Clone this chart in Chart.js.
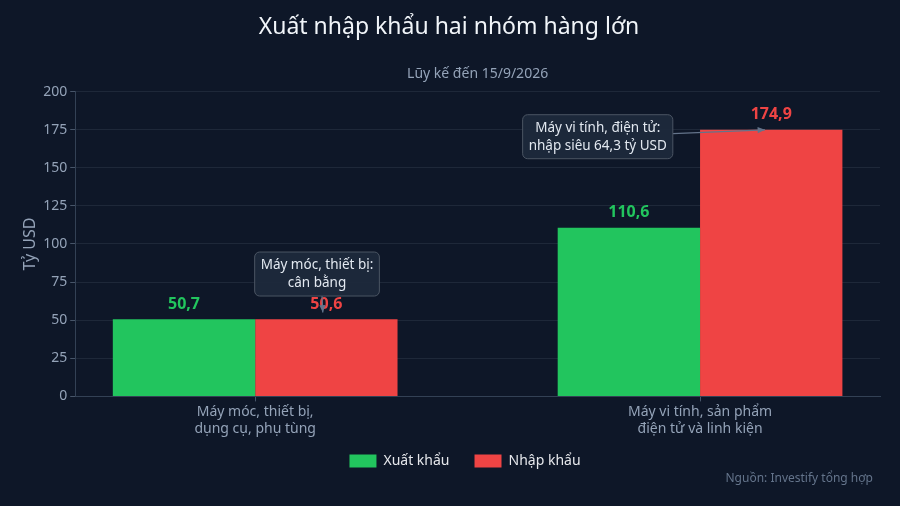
<!DOCTYPE html>
<html>
<head>
<meta charset="utf-8">
<script src="https://cdn.jsdelivr.net/npm/chart.js@4/dist/chart.umd.min.js"></script>
<style>
  html, body { margin: 0; padding: 0; background: #0e1728; }
  #wrap { width: 900px; height: 506px; }
</style>
</head>
<body>
<div id="wrap"><canvas id="chart" width="900" height="506"></canvas></div>
<script>
// data
const categories = [
	['Máy móc, thiết bị,', 'dụng cụ, phụ tùng'],
	['Máy vi tính, sản phẩm', 'điện tử và linh kiện']
];
const exportValues = [50.7, 110.6];
const importValues = [50.6, 174.9];
const yTicks = [0, 25, 50, 75, 100, 125, 150, 175, 200];
const notes = [
	{ lines: ['Máy móc, thiết bị:', 'cân bằng'], x: 0.139, y: 80.3, toX: 0.152, toY: 55 },
	{ lines: ['Máy vi tính, điện tử:', 'nhập siêu 64,3 tỷ USD'], x: 0.77, y: 170.4, toX: 1.146, toY: 174.9, side: true }
];

const GREEN = '#22c55e';
const RED = '#ef4444';
const FONT = "'Noto Sans', 'Open Sans', sans-serif";

function fmt(v) {
	return v.toFixed(1).replace('.', ',');
}

// value labels above bars
const valueLabels = {
	id: 'valueLabels',
	afterDatasetsDraw(chart) {
		const ctx = chart.ctx;
		ctx.save();
		ctx.font = 'bold 16px ' + FONT;
		ctx.textAlign = 'center';
		ctx.textBaseline = 'bottom';
		chart.data.datasets.forEach((ds, i) => {
			chart.getDatasetMeta(i).data.forEach((bar, j) => {
				ctx.fillStyle = ds.backgroundColor;
				ctx.fillText(fmt(ds.data[j].y), bar.x, bar.y - 7);
			});
		});
		ctx.restore();
	}
};

// callout boxes, subtitle and source line
const callouts = {
	id: 'callouts',
	afterDraw(chart) {
		const ctx = chart.ctx;
		const xs = chart.scales.x, ys = chart.scales.y;
		const area = chart.chartArea;
		ctx.save();
		ctx.font = '13.5px ' + FONT;
		notes.forEach(n => {
			const cx = xs.getPixelForValue(n.x), cy = ys.getPixelForValue(n.y);
			const w = Math.max(...n.lines.map(l => ctx.measureText(l).width)) + 12;
			const h = 44;
			const left = cx - w / 2, top = cy - h / 2;
			const tx = xs.getPixelForValue(n.toX), ty = ys.getPixelForValue(n.toY);
			// arrow
			const sx = n.side ? left + w : cx + 5;
			const sy = n.side ? cy - 3 : top + h;
			ctx.strokeStyle = '#64748b';
			ctx.fillStyle = '#64748b';
			ctx.lineWidth = 1.2;
			ctx.beginPath();
			ctx.moveTo(sx, sy);
			ctx.lineTo(tx, ty);
			ctx.stroke();
			const a = Math.atan2(ty - sy, tx - sx);
			ctx.beginPath();
			ctx.moveTo(tx, ty);
			ctx.lineTo(tx - 8 * Math.cos(a - 0.4), ty - 8 * Math.sin(a - 0.4));
			ctx.lineTo(tx - 8 * Math.cos(a + 0.4), ty - 8 * Math.sin(a + 0.4));
			ctx.closePath();
			ctx.fill();
			// box
			ctx.fillStyle = 'rgba(30, 41, 59, 0.95)';
			ctx.strokeStyle = '#4b5563';
			ctx.lineWidth = 1;
			ctx.beginPath();
			ctx.roundRect(left, top, w, h, 5);
			ctx.fill();
			ctx.stroke();
			ctx.fillStyle = '#e2e8f0';
			ctx.textAlign = 'center';
			ctx.textBaseline = 'middle';
			n.lines.forEach((l, k) => {
				ctx.fillText(l, cx, top + 13 + k * 18);
			});
		});
		// subtitle centred over the plot
		ctx.font = '14px ' + FONT;
		ctx.fillStyle = '#94a3b8';
		ctx.textAlign = 'center';
		ctx.textBaseline = 'middle';
		ctx.fillText('Lũy kế đến 15/9/2026', (area.left + area.right) / 2, 74);
		// source
		ctx.font = '12px ' + FONT;
		ctx.fillStyle = '#64748b';
		ctx.textAlign = 'right';
		ctx.fillText('Nguồn: Investify tổng hợp', 873, 479);
		ctx.restore();
	}
};

const bg = {
	id: 'bg',
	beforeDraw(chart) {
		const ctx = chart.ctx;
		ctx.save();
		ctx.fillStyle = '#0e1728';
		ctx.fillRect(0, 0, chart.width, chart.height);
		ctx.restore();
	},
	afterLayout(chart) {
		// nudge legend and title like the reference
		const lg = chart.legend;
		lg.left += 20; lg.right += 20;
		lg.top -= 10; lg.bottom -= 10;
		const tb = chart.titleBlock;
		tb.left += 4; tb.right += 4;
	}
};

var ctx = document.getElementById('chart').getContext('2d');
var myChart = new Chart(ctx, {
	type: 'bar',
	data: {
		datasets: [{
			label: 'Xuất khẩu',
			data: exportValues.map((v, i) => ({ x: i, y: v })),
			backgroundColor: GREEN
		}, {
			label: 'Nhập khẩu',
			data: importValues.map((v, i) => ({ x: i, y: v })),
			backgroundColor: RED
		}]
	},
	plugins: [bg, valueLabels, callouts],
	options: {
		responsive: false,
		animation: false,
		devicePixelRatio: 1,
		categoryPercentage: 0.64,
		barPercentage: 1,
		layout: { padding: { left: 10, right: 20, bottom: 18 } },
		scales: {
			x: {
				type: 'linear',
				offset: false,
				min: -0.4045,
				max: 1.4045,
				afterBuildTicks: scale => {
					scale.ticks = categories.map((c, i) => ({ value: i }));
				},
				ticks: {
					color: '#94a3b8',
					font: { family: FONT, size: 14 },
					callback: v => categories[v],
					padding: 2
				},
				grid: { offset: false, drawOnChartArea: false, color: '#475569', tickLength: 5 },
				border: { color: '#334155' }
			},
			y: {
				min: 0,
				max: 200,
				afterBuildTicks: scale => {
					scale.ticks = yTicks.map(v => ({ value: v }));
				},
				ticks: {
					color: '#94a3b8',
					font: { family: FONT, size: 14 },
					padding: 3
				},
				grid: { color: 'rgba(148, 163, 184, 0.12)', tickColor: '#475569', tickLength: 5 },
				border: { color: '#334155' },
				title: {
					display: true,
					text: 'Tỷ USD',
					color: '#94a3b8',
					font: { family: FONT, size: 16 },
					padding: { top: 11, bottom: 0 }
				}
			}
		},
		plugins: {
			title: {
				display: true,
				text: 'Xuất nhập khẩu hai nhóm hàng lớn',
				color: '#f1f5f9',
				font: { family: FONT, size: 23, weight: 'normal' },
				padding: { top: 14, bottom: 50 }
			},
			subtitle: { display: false },
			legend: {
				position: 'bottom',
				labels: {
					color: '#e5e7eb',
					font: { family: FONT, size: 14 },
					boxWidth: 27,
					boxHeight: 13,
					padding: 25
				}
			},
			tooltip: { enabled: false }
		}
	}
});
</script>
</body>
</html>
